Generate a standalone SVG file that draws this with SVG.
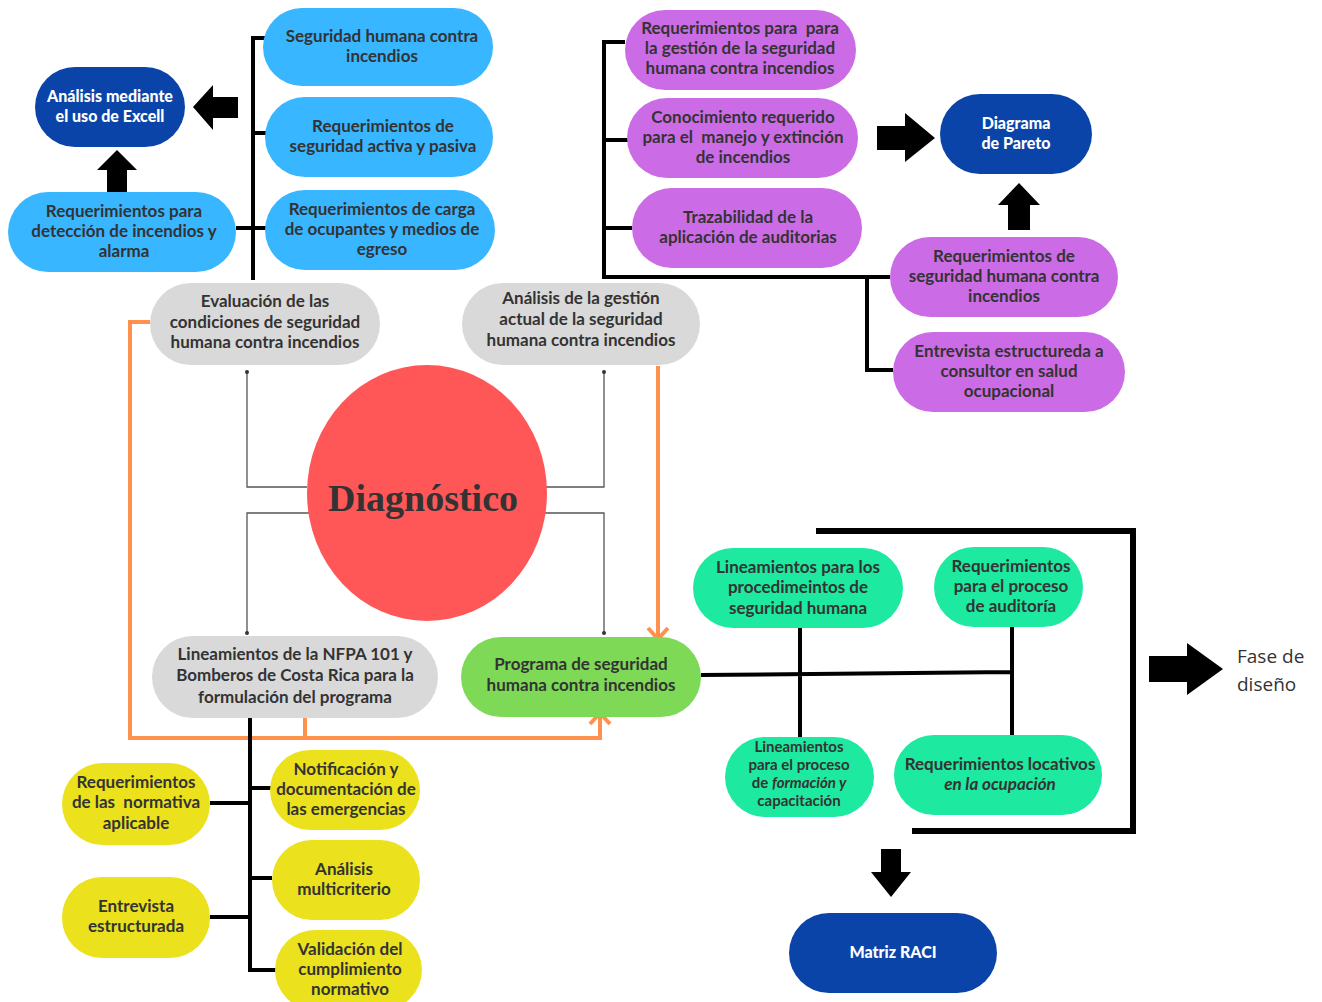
<svg xmlns="http://www.w3.org/2000/svg" width="1322" height="1002" viewBox="0 0 1322 1002">
<style>
.t{font-family:Lato,"Open Sans","Liberation Sans",sans-serif;font-weight:700;font-size:17px;fill:#333333;text-anchor:middle}
.ts{font-size:15px}
.tw{font-family:Lato,"Open Sans","Liberation Sans",sans-serif;font-weight:900;font-size:16px;fill:#ffffff;text-anchor:middle}
.lb{fill:#38b6ff}
.db{fill:#0a44a8}
.gr{fill:#d9d9d9}
.pu{fill:#cb6ce6}
.ye{fill:#ebe11c}
.tq{fill:#1de9a0}
.lg{fill:#7ed957}
.bk{stroke:#000;stroke-width:4;fill:none}
.thin{stroke:#555;stroke-width:1.3;fill:none}
.or{stroke:#ff914d;stroke-width:4;fill:none}
.blk{fill:#000}
</style>
<rect width="1322" height="1002" fill="#fff"/>

<g id="connectors">
  <path class="bk" d="M270 38 H253 V280 M253 133 H272 M236 228 H275"/>
  <path class="bk" d="M625 42 H604 V277 H890 M604 140 H630 M604 228 H632 M867 277 V370 H893"/>
  <path class="thin" d="M247 372 V487 H307 M247 633 V513 H312 M604 372 V487 H546 M604 633 V513 H543"/>
  <circle cx="247" cy="372" r="2" fill="#333"/>
  <circle cx="604" cy="372" r="2" fill="#333"/>
  <circle cx="247" cy="633" r="2" fill="#333"/>
  <circle cx="604" cy="633" r="2" fill="#333"/>
  <path class="or" d="M150 322 H130 V738 H600 V714 M305 718 V738 M658 366 V638"/>
  <path class="or" d="M590 724 L600 713 L610 724 M648 628 L658 639 L668 628"/>
  <path class="bk" d="M250 718 V970 H277 M250 788 H272 M210 803 H250 M250 878 H272 M210 917 H250"/>
  <path class="bk" d="M701 675 L1012 672 M800 628 V737 M1012 627 V737"/>
  <path stroke="#000" stroke-width="6" fill="none" d="M816 531 H1133 V831 H912"/>
  <path class="blk" d="M193 107 L213 85 V97 H238 V118 H213 V130 Z"/>
  <path class="blk" d="M117 150 L137 170 H127 V192 H107 V170 H97 Z"/>
  <path class="blk" d="M935 138 L905 113 V126 H877 V150 H905 V162 Z"/>
  <path class="blk" d="M1019 183 L1040 205 H1030 V230 H1008 V205 H998 Z"/>
  <path class="blk" d="M1223 669 L1187 643 V656 H1149 V682 H1187 V695 Z"/>
  <path class="blk" d="M891 897 L911 872 H901 V849 H881 V872 H871 Z"/>
</g>

<g id="n-excel"><rect class="db" x="35" y="67" width="150" height="80" rx="40"/>
<text class="tw" x="110" y="102">Análisis mediante</text><text class="tw" x="110" y="122">el uso de Excell</text></g>

<g id="n-seg"><rect class="lb" x="263" y="8" width="230" height="78" rx="39"/>
<text class="t" x="382" y="42">Seguridad humana contra</text><text class="t" x="382" y="62">incendios</text></g>

<g id="n-activa"><rect class="lb" x="265" y="97" width="228" height="80" rx="40"/>
<text class="t" x="383" y="132">Requerimientos de</text><text class="t" x="383" y="152">seguridad activa y pasiva</text></g>

<g id="n-carga"><rect class="lb" x="265" y="190" width="230" height="80" rx="40"/>
<text class="t" x="382" y="215">Requerimientos de carga</text><text class="t" x="382" y="235">de ocupantes y medios de</text><text class="t" x="382" y="255">egreso</text></g>

<g id="n-deteccion"><rect class="lb" x="8" y="192" width="228" height="80" rx="40"/>
<text class="t" x="124" y="217">Requerimientos para</text><text class="t" x="124" y="237">detección de incendios y</text><text class="t" x="124" y="257">alarma</text></g>

<g id="n-evaluacion"><rect class="gr" x="150" y="283" width="230" height="82" rx="41"/>
<text class="t" x="265" y="307">Evaluación de las</text><text class="t" x="265" y="328">condiciones de seguridad</text><text class="t" x="265" y="348">humana contra incendios</text></g>

<g id="n-gestion"><rect class="gr" x="462" y="283" width="238" height="82" rx="41"/>
<text class="t" x="581" y="304">Análisis de la gestión</text><text class="t" x="581" y="325">actual de la seguridad</text><text class="t" x="581" y="346">humana contra incendios</text></g>

<g id="n-diag"><ellipse cx="427" cy="493" rx="120" ry="128" fill="#ff5757"/>
<text x="423" y="511" font-family="'Liberation Serif','DejaVu Serif',serif" font-weight="700" font-size="38" fill="#333" text-anchor="middle">Diagnóstico</text></g>

<g id="n-nfpa"><rect class="gr" x="152" y="636" width="286" height="82" rx="41"/>
<text class="t" x="295" y="660">Lineamientos de la NFPA 101 y</text><text class="t" x="295" y="681">Bomberos de Costa Rica para la</text><text class="t" x="295" y="703">formulación del programa</text></g>

<g id="n-programa"><rect class="lg" x="461" y="637" width="240" height="80" rx="40"/>
<text class="t" x="581" y="670">Programa de seguridad</text><text class="t" x="581" y="691">humana contra incendios</text></g>

<g id="n-p1"><rect class="pu" x="625" y="10" width="231" height="80" rx="40"/>
<text class="t" x="740" y="34">Requerimientos para&#160; para</text><text class="t" x="740" y="54">la gestión de la seguridad</text><text class="t" x="740" y="74">humana contra incendios</text></g>

<g id="n-p2"><rect class="pu" x="627" y="98" width="231" height="80" rx="40"/>
<text class="t" x="743" y="123">Conocimiento requerido</text><text class="t" x="743" y="143">para el&#160; manejo y extinción</text><text class="t" x="743" y="163">de incendios</text></g>

<g id="n-p3"><rect class="pu" x="632" y="188" width="230" height="80" rx="40"/>
<text class="t" x="748" y="223">Trazabilidad de la</text><text class="t" x="748" y="243">aplicación de auditorias</text></g>

<g id="n-pareto"><rect class="db" x="940" y="94" width="152" height="80" rx="40"/>
<text class="tw" x="1016" y="129">Diagrama</text><text class="tw" x="1016" y="149">de Pareto</text></g>

<g id="n-p4"><rect class="pu" x="890" y="237" width="228" height="80" rx="40"/>
<text class="t" x="1004" y="262">Requerimientos de</text><text class="t" x="1004" y="282">seguridad humana contra</text><text class="t" x="1004" y="302">incendios</text></g>

<g id="n-p5"><rect class="pu" x="893" y="332" width="232" height="80" rx="40"/>
<text class="t" x="1009" y="357">Entrevista estructureda a</text><text class="t" x="1009" y="377">consultor en salud</text><text class="t" x="1009" y="397">ocupacional</text></g>

<g id="n-y1"><rect class="ye" x="62" y="763" width="148" height="82" rx="41"/>
<text class="t" x="136" y="788">Requerimientos</text><text class="t" x="136" y="808">de las&#160; normativa</text><text class="t" x="136" y="829">aplicable</text></g>

<g id="n-y2"><rect class="ye" x="62" y="877" width="148" height="81" rx="40"/>
<text class="t" x="136" y="912">Entrevista</text><text class="t" x="136" y="932">estructurada</text></g>

<g id="n-y3"><rect class="ye" x="270" y="750" width="150" height="80" rx="40"/>
<text class="t" x="346" y="775">Notificación y</text><text class="t" x="346" y="795">documentación de</text><text class="t" x="346" y="815">las emergencias</text></g>

<g id="n-y4"><rect class="ye" x="272" y="840" width="148" height="80" rx="40"/>
<text class="t" x="344" y="875">Análisis</text><text class="t" x="344" y="895">multicriterio</text></g>

<g id="n-y5"><rect class="ye" x="275" y="930" width="147" height="80" rx="40"/>
<text class="t" x="350" y="955">Validación del</text><text class="t" x="350" y="975">cumplimiento</text><text class="t" x="350" y="995">normativo</text></g>

<g id="n-g1"><rect class="tq" x="693" y="548" width="210" height="80" rx="40"/>
<text class="t" x="798" y="573">Lineamientos para los</text><text class="t" x="798" y="593">procedimeintos de</text><text class="t" x="798" y="614">seguridad humana</text></g>

<g id="n-g2"><rect class="tq" x="934" y="547" width="149" height="80" rx="40"/>
<text class="t" x="1011" y="572">Requerimientos</text><text class="t" x="1011" y="592">para el proceso</text><text class="t" x="1011" y="612">de auditoría</text></g>

<g id="n-g3"><rect class="tq" x="725" y="737" width="149" height="80" rx="40"/>
<text class="t ts" x="799" y="752">Lineamientos</text><text class="t ts" x="799" y="770">para el proceso</text><text class="t ts" x="799" y="788">de <tspan font-style="italic">formación y</tspan></text><text class="t ts" x="799" y="806">capacitación</text></g>

<g id="n-g4"><rect class="tq" x="894" y="735" width="208" height="80" rx="40"/>
<text class="t" x="1000" y="770">Requerimientos locativos</text><text class="t" x="1000" y="790" font-style="italic">en la ocupación</text></g>

<g id="n-raci"><rect class="db" x="789" y="913" width="208" height="80" rx="40"/>
<text class="tw" x="893" y="958">Matriz RACI</text></g>

<g id="n-fase">
<text x="1237" y="663" font-family="'Open Sans','Noto Sans',sans-serif" font-size="19" fill="#333">Fase de</text>
<text x="1237" y="691" font-family="'Open Sans','Noto Sans',sans-serif" font-size="19" fill="#333">diseño</text></g>
</svg>
